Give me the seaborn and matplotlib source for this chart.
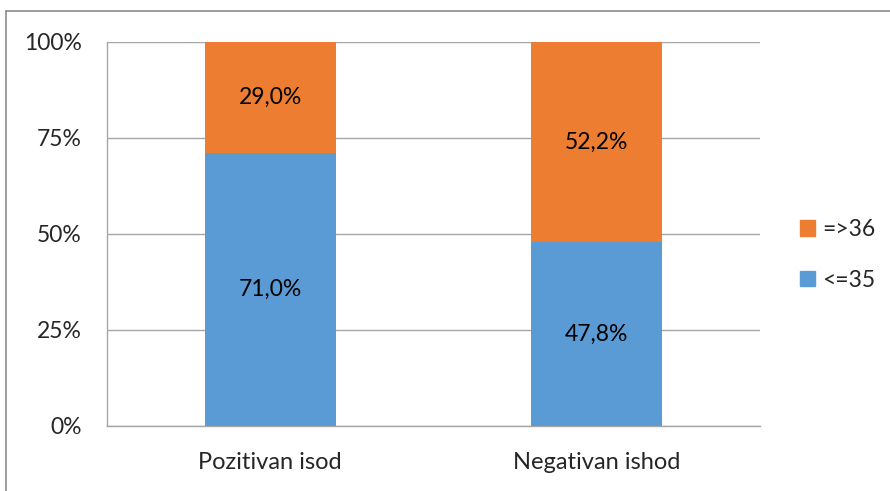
import numpy as np
import pandas as pd
import matplotlib
matplotlib.use("Agg")
import matplotlib.pyplot as plt
import matplotlib.patches as mpatches
import matplotlib.lines as mlines
import seaborn as sns

categories = ["Pozitivan isod", "Negativan ishod"]
low_share = [71.0, 47.8]     # <=35
high_share = [29.0, 52.2]    # =>36
series_names = ["<=35", "=>36"]
yticks = [0, 25, 50, 75, 100]

blue = "#5b9bd5"
orange = "#ed7d31"
grid_col = "#a6a6a6"
fs = 16.5

sns.set_style("white")
plt.rcParams["font.family"] = ["Lato", "DejaVu Sans"]

df = pd.DataFrame({"cat": categories, "low": low_share, "high": high_share})
df["total"] = df["low"] + df["high"]

fig = plt.figure(figsize=(8.9, 4.91), dpi=100)
ax = fig.add_axes([107 / 890, 1 - 426 / 491, (760 - 107) / 890, (426 - 42) / 491])

# stacked: draw the full bar in orange, then the lower part in blue on top
sns.barplot(data=df, x="cat", y="total", color=orange, width=0.4,
            saturation=1, linewidth=0, ax=ax, zorder=2)
sns.barplot(data=df, x="cat", y="low", color=blue, width=0.4,
            saturation=1, linewidth=0, ax=ax, zorder=3)

for i in range(len(categories)):
    lo = df["low"][i]
    hi = df["high"][i]
    ax.text(i, lo / 2, f"{lo:.1f}".replace(".", ",") + "%", ha="center",
            va="center", fontsize=fs, color="black", zorder=4)
    ax.text(i, lo + hi / 2, f"{hi:.1f}".replace(".", ",") + "%", ha="center",
            va="center", fontsize=fs, color="black", zorder=4)

ax.set_ylim(0, 100)
ax.set_xlim(-0.5, 1.5)
ax.set_yticks(yticks)
ax.set_yticklabels([f"{t}%" for t in yticks], fontsize=fs)
ax.yaxis.grid(True, color=grid_col, linewidth=1)
ax.set_axisbelow(True)
ax.set_xlabel("")
ax.set_ylabel("")

# category labels centred, tick marks on category boundaries
ax.set_xticks([0, 1])
ax.set_xticklabels(categories, fontsize=fs + 0.5)
ax.tick_params(axis="x", length=0, pad=19)
ax.set_xticks([-0.5, 0.5, 1.5], minor=True)
ax.tick_params(axis="x", which="minor", length=6, color=grid_col, width=1)
ax.tick_params(axis="y", length=6, color=grid_col, width=1, pad=12)

for s in ["top", "right"]:
    ax.spines[s].set_visible(False)
for s in ["left", "bottom"]:
    ax.spines[s].set_color(grid_col)
    ax.spines[s].set_linewidth(1)

handles = [mpatches.Patch(color=orange, label=series_names[1]),
           mpatches.Patch(color=blue, label=series_names[0])]
fig.legend(handles=handles, loc="center left", bbox_to_anchor=(0.876, 0.481),
           frameon=False, fontsize=fs, handlelength=0.65, handleheight=0.65,
           handletextpad=0.3, labelspacing=1.3)

# chart border (only top and left edges visible, picture is cropped)
fig.add_artist(mlines.Line2D([6 / 890, 1], [1 - 11 / 491, 1 - 11 / 491],
                             transform=fig.transFigure, color="#8c8c8c", linewidth=1.2))
fig.add_artist(mlines.Line2D([6 / 890, 6 / 890], [0, 1 - 11 / 491],
                             transform=fig.transFigure, color="#8c8c8c", linewidth=1.2))

fig.savefig("out.png", dpi=100)
